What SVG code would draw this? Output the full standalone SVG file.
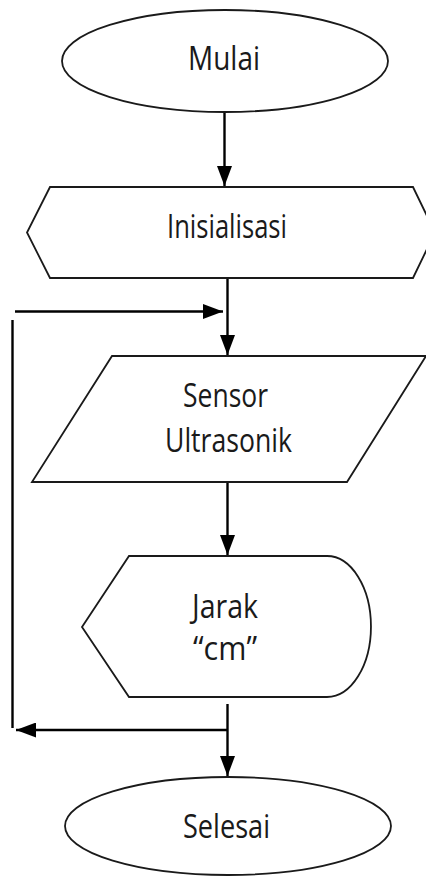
<svg xmlns="http://www.w3.org/2000/svg" width="426" height="877" viewBox="0 0 426 877">
<style>
.shape{fill:#fff;stroke:#1a1a1a;stroke-width:1.8}
.lbl{font-family:"Open Sans","DejaVu Sans",sans-serif;font-size:32px;fill:#1a1a1a;text-anchor:middle}
.conn{fill:none;stroke:#000;stroke-width:2.4}
</style>
<defs>
<marker id="ah" markerUnits="userSpaceOnUse" markerWidth="20" markerHeight="15" viewBox="0 0 20 15" refX="20" refY="7.5" orient="auto">
<path d="M0,0 L20,7.5 L0,15 Z" fill="#000"/>
</marker>
</defs>
<rect width="426" height="877" fill="#fff"/>
<g id="connectors">
<line class="conn" x1="224.5" y1="112" x2="224.5" y2="186" marker-end="url(#ah)"/>
<line class="conn" x1="227.5" y1="278" x2="227.5" y2="355" marker-end="url(#ah)"/>
<line class="conn" x1="15" y1="311.5" x2="223" y2="311.5" marker-end="url(#ah)"/>
<line class="conn" x1="12.5" y1="320" x2="12.5" y2="728"/>
<line class="conn" x1="227.5" y1="482" x2="227.5" y2="555" marker-end="url(#ah)"/>
<line class="conn" x1="227.5" y1="704" x2="227.5" y2="776" marker-end="url(#ah)"/>
<line class="conn" x1="227.5" y1="730" x2="16" y2="730" marker-end="url(#ah)"/>
</g>
<g id="mulai">
<ellipse class="shape" cx="225" cy="61" rx="163" ry="51"/>
<text class="lbl" x="224" y="70" textLength="72" lengthAdjust="spacingAndGlyphs">Mulai</text>
</g>
<g id="inisialisasi">
<path class="shape" d="M50,187 L413,187 L435,232.5 L413,278 L50,278 L27,232.5 Z"/>
<text class="lbl" x="227" y="238" textLength="120" lengthAdjust="spacingAndGlyphs">Inisialisasi</text>
</g>
<g id="sensor">
<path class="shape" d="M112,356 L426,356 L347,482 L32,482 Z"/>
<text class="lbl" x="225.5" y="407" textLength="85" lengthAdjust="spacingAndGlyphs">Sensor</text>
<text class="lbl" x="228.5" y="452" textLength="127" lengthAdjust="spacingAndGlyphs">Ultrasonik</text>
</g>
<g id="jarak">
<path class="shape" d="M129,556 L327,556 A44,70.5 0 0 1 327,697 L129,697 L82,627 Z"/>
<text class="lbl" x="225" y="618" textLength="66" lengthAdjust="spacingAndGlyphs">Jarak</text>
<text class="lbl" x="225" y="660" textLength="64" lengthAdjust="spacingAndGlyphs">“cm”</text>
</g>
<g id="selesai">
<ellipse class="shape" cx="228" cy="826" rx="163" ry="49"/>
<text class="lbl" x="226.5" y="838" textLength="87" lengthAdjust="spacingAndGlyphs">Selesai</text>
</g>
</svg>
